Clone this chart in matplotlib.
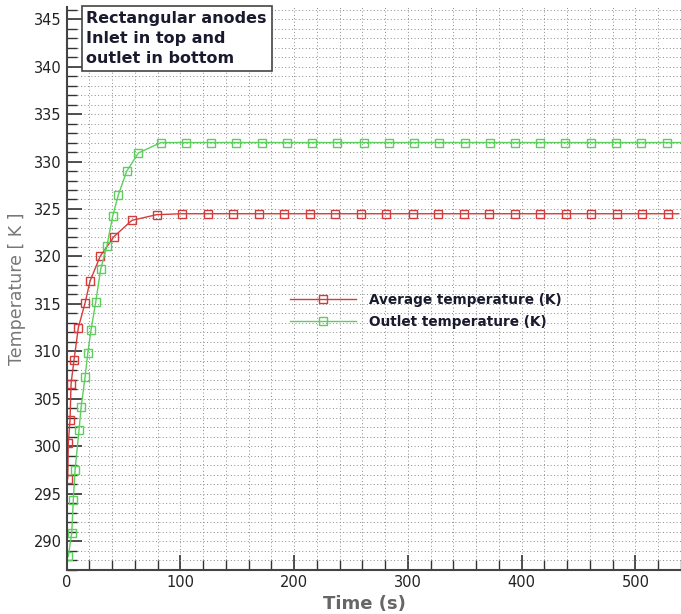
import numpy as np
import matplotlib
matplotlib.use('Agg')
import matplotlib.pyplot as plt
from matplotlib.ticker import MultipleLocator

# Average temperature (red) - times in s, temperatures in K
avg_time = [0.9, 1.4, 2.9, 3.8, 6.4, 10.2, 16.1, 20.5, 29.3, 41.6, 57.2,
            79, 101, 124, 146, 169, 191, 214, 236, 259, 281, 304, 326,
            349, 371, 394, 416, 439, 461, 484, 506, 529, 538]
avg_temp = [296.6, 300.4, 302.8, 306.6, 309.1, 312.5, 315.1, 317.4, 320.0, 322.1, 323.8,
            324.4, 324.5, 324.5, 324.5, 324.5, 324.5, 324.5, 324.5, 324.5, 324.5, 324.5, 324.5,
            324.5, 324.5, 324.5, 324.5, 324.5, 324.5, 324.5, 324.5, 324.5, 324.5]

# Outlet temperature (green)
out_time = [1.4, 4.4, 5.8, 7.3, 10.8, 12.6, 16.1, 18.5, 21.4, 25.5, 29.9, 35.2,
            40.5, 45.4, 52.8, 63, 82.7, 105, 127, 149, 172, 194, 216, 238, 261,
            283, 305, 327, 350, 372, 394, 416, 438, 461, 483, 505, 528, 540]
out_temp = [288.4, 290.9, 294.4, 297.5, 301.7, 304.1, 307.3, 309.8, 312.3, 315.2, 318.7, 321.05,
            324.3, 326.5, 329.0, 330.9, 332.0, 332.0, 332.0, 332.0, 332.0, 332.0, 332.0, 332.0, 332.0,
            332.0, 332.0, 332.0, 332.0, 332.0, 332.0, 332.0, 332.0, 332.0, 332.0, 332.0, 332.0, 332.0]

fig = plt.figure(figsize=(6.81, 6.14), dpi=100)
ax = fig.add_axes([0.098, 0.072, 0.902, 0.917])

red = '#d43c3c'
green = '#5ccf5c'
ax.plot(avg_time, avg_temp, color=red, lw=1.0, marker='s', ms=5.8, mfc='none',
        mec=red, mew=1.0, markevery=list(range(len(avg_time) - 1)),
        label='Average temperature (K)')
ax.plot(out_time, out_temp, color=green, lw=1.0, marker='s', ms=5.8, mfc='none',
        mec=green, mew=1.0, markevery=list(range(len(out_time) - 1)),
        label='Outlet temperature (K)')

ax.set_xlim(0, 540)
ax.set_ylim(287, 346.3)
ax.xaxis.set_major_locator(MultipleLocator(100))
ax.xaxis.set_minor_locator(MultipleLocator(20))
ax.yaxis.set_major_locator(MultipleLocator(5))
ax.yaxis.set_minor_locator(MultipleLocator(1))
ax.tick_params(which='major', direction='in', length=11, width=1.2, colors='#333333',
               labelsize=10.5, labelcolor='#222222')
ax.tick_params(which='minor', direction='in', length=7, width=1.0, colors='#333333')
ax.grid(which='both', linestyle=(0, (1, 2.5)), color='#8a8a8a', lw=0.7)
ax.set_axisbelow(True)

for s in ['top', 'right']:
    ax.spines[s].set_visible(False)
for s in ['left', 'bottom']:
    ax.spines[s].set_color('#444444')
    ax.spines[s].set_linewidth(1.5)

ax.set_xlabel('Time (s)', fontsize=13, fontweight='bold', color='#666666', labelpad=4)
ax.xaxis.set_label_coords(0.484, -0.045)
ax.set_ylabel('Temperature [ K ]', fontsize=12.5, color='#777777', labelpad=6)

ax.text(0.032, 0.993, 'Rectangular anodes\nInlet in top and\noutlet in bottom',
        transform=ax.transAxes, ha='left', va='top', fontsize=11.5, fontweight='bold',
        color='#1a1a2e', linespacing=1.45,
        bbox=dict(boxstyle='square,pad=0.3', fc='white', ec='#444444', lw=1.2))

leg = ax.legend(loc='center left', bbox_to_anchor=(0.352, 0.46), frameon=False,
                handlelength=4.9, borderpad=0, handletextpad=0.9, labelspacing=0.6,
                prop={'size': 9.8, 'weight': 'bold'})
for t in leg.get_texts():
    t.set_color('#1a1a2e')

fig.savefig('out.png', dpi=100)
